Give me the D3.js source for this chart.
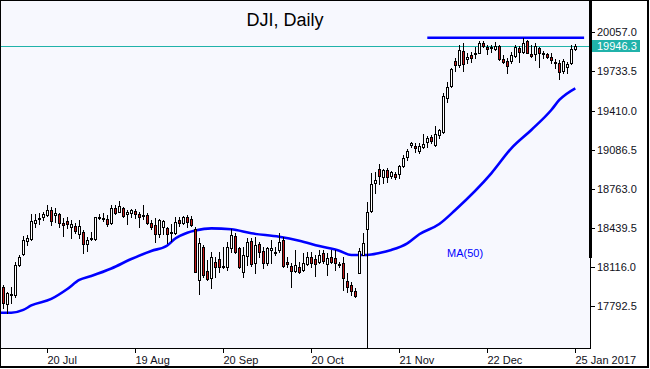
<!DOCTYPE html>
<html><head><meta charset="utf-8">
<script src="https://cdn.jsdelivr.net/npm/d3@7"></script>
<style>
body{margin:0;background:#fff}
svg{display:block;font-family:"Liberation Sans",Arial,sans-serif}
</style>
</head><body>
<svg id="c" width="650" height="369"></svg>
<script>
// ---- data ----
const title = "DJI, Daily";
const openP = [17947,17809,17880,17884,18132,18220,18333,18344,18477,18510,
18527,18546,18587,18546,18554,18482,18496,18444,18455,18388,
18402,18303,18344,18347,18518,18512,18512,18477,18606,18573,
18606,18556,18560,18579,18554,18535,18546,18479,18463,18386,
18449,18438,18394,18397,18508,18483,18531,18512,18430,18008,
18283,18085,18022,18154,18179,18113,18118,18270,18372,18270,
18076,18206,18330,18146,18306,18250,18146,18256,18228,18256,
18339,18157,18124,18085,18118,18090,18140,18200,18179,18157,
18228,18140,18196,18187,18129,18146,18000,17966,17919,18063,
18215,18427,18581,18808,18924,18857,18918,18868,18885,18882,
18953,19023,19125,19116,19077,19111,19147,19188,19125,19207,
19235,19516,19613,19817,19784,19905,19834,19869,19877,19888,
19971,19933,19927,19916,19944,19834,19820,19822,19863,19925,
19891,19985,19877,19877,19925,19877,19877,19855,19800,19805,
19739,19767,19800,19916];
const highP = [17966,17911,17947,18159,18215,18372,18380,18554,18554,18560,
18573,18628,18609,18601,18560,18518,18531,18504,18477,18504,
18421,18366,18407,18531,18554,18560,18546,18628,18628,18661,
18614,18587,18595,18595,18570,18628,18558,18504,18521,18512,
18504,18449,18471,18529,18525,18537,18546,18537,18446,18353,
18297,18173,18242,18200,18242,18283,18324,18427,18394,18283,
18283,18353,18353,18366,18325,18283,18283,18339,18283,18394,
18366,18196,18146,18256,18159,18228,18242,18242,18215,18256,
18256,18228,18256,18256,18159,18200,18063,17994,17939,18270,
18394,18656,18890,18904,18967,18924,18932,18912,18904,18959,
19042,19089,19152,19139,19139,19216,19199,19207,19282,19254,
19557,19648,19759,19842,19952,19966,19883,19896,19933,19987,
19987,19952,19952,19979,19952,19869,19842,19896,19952,19944,
20007,19993,19952,19971,19938,19905,19888,19888,19834,19828,
19834,19814,19952,19960];
const lowP = [17774,17732,17815,17870,18124,18215,18297,18339,18449,18471,
18504,18537,18463,18490,18449,18372,18435,18353,18394,18353,
18233,18250,18339,18339,18510,18496,18457,18468,18551,18568,
18531,18468,18531,18518,18449,18512,18471,18430,18322,18366,
18388,18310,18330,18392,18455,18471,18449,18455,18074,17889,
18035,18008,17944,18035,18076,18104,18090,18242,18233,18104,
18035,18132,18124,18068,18200,18104,18132,18146,18215,18242,
18118,18118,17947,18076,18063,18082,18129,18118,18041,18146,
18146,18049,18146,18090,18118,17925,17911,17884,17865,18063,
18215,17456,18573,18725,18802,18808,18821,18849,18841,18854,
18945,19001,19111,19069,19061,19097,19111,19139,19116,19180,
19226,19483,19602,19739,19772,19739,19800,19814,19842,19883,
19933,19877,19896,19911,19828,19800,19718,19800,19855,19809,
19883,19883,19855,19828,19767,19842,19842,19800,19759,19668,
19723,19723,19795,19911];
const closeP = [17820,17898,17888,18132,18196,18339,18358,18498,18504,18518,
18551,18587,18498,18560,18482,18463,18468,18471,18416,18455,
18303,18339,18353,18526,18531,18518,18468,18606,18560,18622,
18540,18568,18587,18554,18529,18543,18477,18442,18388,18500,
18492,18386,18405,18488,18483,18531,18488,18465,18076,18311,
18049,18016,18200,18118,18118,18124,18283,18380,18242,18118,
18215,18325,18138,18297,18242,18146,18270,18270,18242,18325,
18124,18140,18085,18132,18076,18151,18200,18146,18140,18215,
18165,18187,18157,18146,18138,18022,17947,17919,17875,18248,
18316,18573,18799,18835,18868,18918,18857,18899,18862,18951,
19014,19075,19144,19097,19116,19130,19180,19160,19213,19249,
19530,19602,19751,19786,19910,19792,19855,19842,19883,19971,
19946,19919,19933,19944,19834,19814,19778,19869,19933,19891,
19966,19888,19861,19946,19883,19883,19850,19828,19809,19731,
19820,19795,19916,19946.3];
// MA(50) read at these bar indices
const maIndex = [-1,2,5,7,12,16,19,22,27,32,37,41,43,46,48,52,57,62,69,74,79,84,87,91,94,97,101,104,109,113,122,127,132,137,139,143];
const maValue = [17737,17737,17760,17797,17851,17933,18008,18041,18103,18181,18248,18293,18351,18399,18417,18435,18427,18394,18366,18333,18289,18250,18215,18215,18231,18256,18311,18386,18471,18587,18890,19097,19249,19414,19497,19594];
const maLabel = "MA(50)";
// horizontal resistance line
const resLevel = 20012, resFrom = 106, resTo = 145.2;
const lastPrice = 19946.3;
const yTicks = [20057.0,19733.5,19410.0,19086.5,18763.0,18439.5,18116.0,17792.5];
const xTickIndex = [11,33,55,77,99,121,143];
const xTickLabels = ["20 Jul","19 Aug","20 Sep","20 Oct","21 Nov","22 Dec","25 Jan 2017"];

// ---- layout ----
const svg = d3.select("#c");
const PL=1, PT=1, PR=590, PB=348;
const x = d3.scaleLinear().domain([0,143]).range([3.3,575.3]);
const y = d3.scaleLinear().domain([17792.5,20057]).range([306,32.3]);
const RED="#c41a1a", TEAL="#20b2aa", BLUE="#0000ff", BG="#f7f8fe";

svg.append("rect").attr("width",650).attr("height",369).attr("fill","#fff");
svg.append("rect").attr("x",PL).attr("y",PT).attr("width",PR-PL).attr("height",PB-PT).attr("fill",BG);

const defs = svg.append("defs");
defs.append("clipPath").attr("id","plot").append("rect")
  .attr("x",PL).attr("y",PT).attr("width",PR-PL).attr("height",PB-PT);
const g = svg.append("g").attr("clip-path","url(#plot)");

// last price line
g.append("line").attr("x1",PL).attr("x2",PR)
  .attr("y1",Math.round(y(lastPrice))+0.5).attr("y2",Math.round(y(lastPrice))+0.5)
  .attr("stroke",TEAL).attr("stroke-width",1);

// resistance line
g.append("line").attr("x1",x(resFrom)).attr("x2",x(resTo))
  .attr("y1",y(resLevel)).attr("y2",y(resLevel))
  .attr("stroke",BLUE).attr("stroke-width",2.5);

// MA line
const maPts = maIndex.map((d,i)=>[d,maValue[i]]);
g.append("path").datum(maPts)
  .attr("d",d3.line().x(d=>x(d[0])).y(d=>y(d[1])).curve(d3.curveMonotoneX))
  .attr("fill","none").attr("stroke",BLUE).attr("stroke-width",2.6);

// candles
const bars = d3.range(openP.length).map(i=>({i,o:openP[i],h:highP[i],l:lowP[i],c:closeP[i]}));
const cg = g.append("g");
bars.forEach(b=>{
  const xc = Math.floor(x(b.i))+0.5;
  cg.append("line").attr("x1",xc).attr("x2",xc)
    .attr("y1",Math.round(y(b.h))).attr("y2",Math.round(y(b.l))+1)
    .attr("stroke","#000").attr("stroke-width",1);
  const top = Math.round(y(Math.max(b.o,b.c)))+0.5;
  const bot = Math.round(y(Math.min(b.o,b.c)))+0.5;
  const up = b.c>=b.o;
  if (bot-top < 1) {
    cg.append("line").attr("x1",xc-1.5).attr("x2",xc+1.5).attr("y1",top).attr("y2",top)
      .attr("stroke","#000").attr("stroke-width",1);
  } else {
    cg.append("rect").attr("x",xc-1).attr("y",top).attr("width",2).attr("height",bot-top)
      .attr("fill",up?"#fff":RED).attr("stroke","#000").attr("stroke-width",1);
  }
});

// MA label
svg.append("text").attr("x",447).attr("y",257).attr("fill",BLUE)
  .attr("font-size",11).text(maLabel);

// title
svg.append("text").attr("x",285).attr("y",26).attr("text-anchor","middle")
  .attr("font-size",18).attr("fill","#000").text(title);

// frame of plot
svg.append("line").attr("x1",PR+0.5).attr("x2",PR+0.5).attr("y1",0).attr("y2",PB+1).attr("stroke","#000");
svg.append("line").attr("x1",0).attr("x2",PR+1).attr("y1",PB+0.5).attr("y2",PB+0.5).attr("stroke","#000");
svg.append("rect").attr("x",589).attr("y",1).attr("width",3).attr("height",257).attr("fill","#000");

// y axis
const ya = svg.append("g");
yTicks.forEach(v=>{
  const yy = Math.round(y(v))+0.5;
  ya.append("line").attr("x1",591).attr("x2",595).attr("y1",yy).attr("y2",yy).attr("stroke","#000");
  ya.append("text").attr("x",597).attr("y",yy).attr("dy","0.36em").attr("font-size",11)
    .attr("fill","#101020").text(d3.format(".1f")(v));
});
// last price box
const ly = Math.round(y(lastPrice));
svg.append("rect").attr("x",592).attr("y",ly-6).attr("width",48).attr("height",12).attr("fill",TEAL);
svg.append("text").attr("x",597).attr("y",ly).attr("dy","0.36em").attr("font-size",11)
  .attr("fill","#fff").text(d3.format(".1f")(lastPrice));

// x axis
const xa = svg.append("g");
xTickIndex.forEach((ix,k)=>{
  const xx = Math.floor(x(ix))+0.5;
  xa.append("line").attr("x1",xx).attr("x2",xx).attr("y1",PB+1).attr("y2",PB+5).attr("stroke","#000");
  xa.append("text").attr("x",xx).attr("y",364).attr("font-size",11).attr("fill","#101020").text(xTickLabels[k]);
});

// outer frame
svg.append("line").attr("x1",0.5).attr("x2",0.5).attr("y1",0).attr("y2",368).attr("stroke","#000");
svg.append("line").attr("x1",0).attr("x2",649).attr("y1",0.5).attr("y2",0.5).attr("stroke","#000");
svg.append("line").attr("x1",648).attr("x2",648).attr("y1",0).attr("y2",368).attr("stroke","#000").attr("stroke-width",2);
svg.append("line").attr("x1",0).attr("x2",649).attr("y1",367).attr("y2",367).attr("stroke","#000").attr("stroke-width",2);
</script>
</body></html>
